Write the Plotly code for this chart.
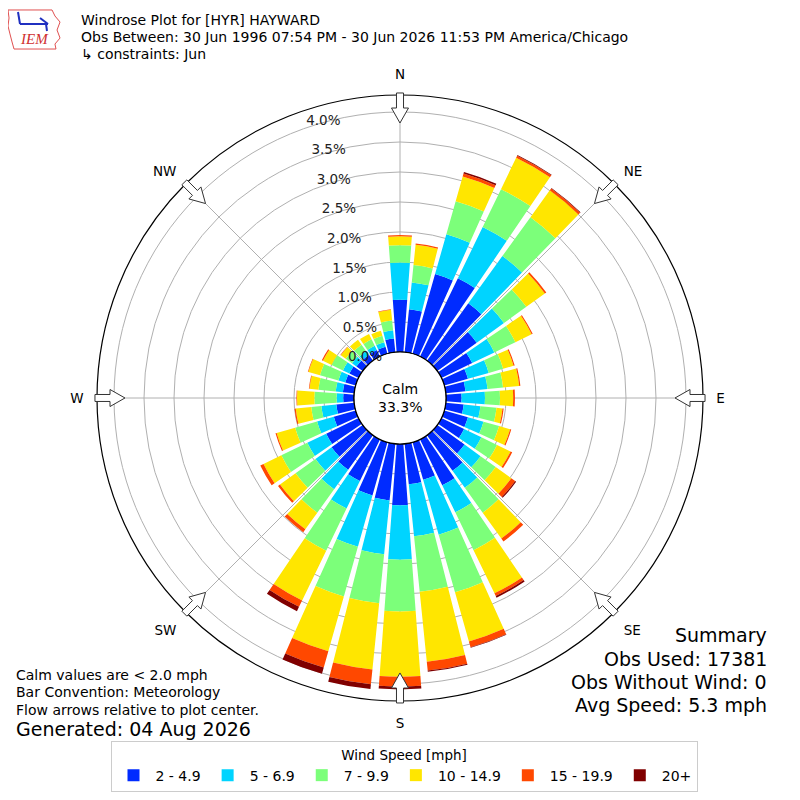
import math
import plotly.graph_objects as go

# wind direction bins (degrees, meteorological)
directions = list(range(0, 360, 10))

speed_bins = ["2 - 4.9", "5 - 6.9", "7 - 9.9", "10 - 14.9", "15 - 19.9", "20+"]
bin_colors = ["#002bff", "#00d4ff", "#7cff7a", "#ffe600", "#ff4800", "#800000"]

# frequency (%) per direction for each speed bin
pct_2_5 = [0.87, 0.72, 1.38, 1.45, 1.18, 0.81, 0.57, 0.41, 0.33, 0.26, 0.30, 0.41,
           0.42, 0.56, 0.73, 0.85, 0.65, 0.68, 1.02, 0.95, 0.92, 0.77, 0.71, 0.64,
           0.60, 0.38, 0.30, 0.18, 0.19, 0.18, 0.17, 0.13, 0.12, 0.12, 0.12, 0.23]
pct_5_7 = [0.62, 0.45, 0.69, 0.95, 0.97, 0.56, 0.41, 0.36, 0.37, 0.39, 0.28, 0.27,
           0.32, 0.33, 0.35, 0.50, 0.95, 0.87, 0.91, 0.90, 0.89, 0.51, 0.40, 0.33,
           0.35, 0.29, 0.25, 0.11, 0.12, 0.12, 0.12, 0.09, 0.08, 0.08, 0.08, 0.14]
pct_7_10 = [0.29, 0.29, 0.57, 0.70, 0.80, 0.46, 0.39, 0.25, 0.26, 0.25, 0.27, 0.27,
            0.29, 0.31, 0.51, 0.70, 1.00, 0.93, 0.86, 0.82, 0.86, 0.78, 0.48, 0.41,
            0.48, 0.38, 0.17, 0.37, 0.29, 0.32, 0.21, 0.13, 0.13, 0.12, 0.11, 0.16]
pct_10_15 = [0.15, 0.34, 0.43, 0.58, 0.55, 0.38, 0.30, 0.18, 0.27, 0.22, 0.10, 0.19,
             0.25, 0.32, 0.53, 0.80, 0.85, 1.17, 1.09, 1.11, 0.95, 0.92, 0.34, 0.32,
             0.33, 0.32, 0.26, 0.29, 0.15, 0.20, 0.16, 0.10, 0.10, 0.10, 0.09, 0.18]
pct_15_20 = [0.02, 0.02, 0.05, 0.04, 0.04, 0.03, 0.02, 0.02, 0.02, 0.03, 0.02, 0.02,
             0.03, 0.08, 0.06, 0.05, 0.10, 0.15, 0.16, 0.25, 0.28, 0.12, 0.06, 0.04,
             0.06, 0.02, 0.02, 0.01, 0.01, 0.01, 0.02, 0.01, 0.00, 0.00, 0.00, 0.01]
pct_20_up = [0.00, 0.00, 0.03, 0.01, 0.01, 0.00, 0.00, 0.00, 0.00, 0.00, 0.00, 0.00,
             0.00, 0.02, 0.00, 0.03, 0.01, 0.02, 0.05, 0.08, 0.11, 0.08, 0.00, 0.00,
             0.00, 0.00, 0.00, 0.00, 0.00, 0.00, 0.00, 0.00, 0.00, 0.00, 0.00, 0.00]

series = [pct_2_5, pct_5_7, pct_7_10, pct_10_15, pct_15_20, pct_20_up]

radial_ticks = [0.0, 0.5, 1.0, 1.5, 2.0, 2.5, 3.0, 3.5, 4.0]
compass_angles = [0, 45, 90, 135, 180, 225, 270, 315]
compass_labels = ["N", "NE", "E", "SE", "S", "SW", "W", "NW"]

FONT = "DejaVu Sans"
OFF = 8            # page body margin
W = H = 800 - OFF
CX, CY, R_OUT = 400, 398, 303   # target page pixels


def px2paper(x, y):
    return (x - OFF) / W, 1 - (y - OFF) / H


def arrow_path(bearing):
    # outlined flow arrow sitting on the outer ring, pointing inward
    pts = [(305, -3.5), (290, -3.5), (290, -8.5), (275, 0), (290, 8.5), (290, 3.5), (305, 3.5)]
    b = math.radians(bearing)
    out = []
    for u, v in pts:
        x = CX + u * math.sin(b) + v * math.cos(b)
        y = CY - u * math.cos(b) + v * math.sin(b)
        px, py = px2paper(x, y)
        out.append(f"{px:.4f},{py:.4f}")
    return "M " + " L ".join(out) + " Z"


fig = go.Figure()

for name, vals, col in zip(speed_bins, series, bin_colors):
    fig.add_trace(go.Barpolar(
        r=vals, theta=directions, width=[8.4] * len(directions),
        name=name, marker=dict(color=col, line=dict(width=0)),
    ))

# calm circle edge
fig.add_trace(go.Scatterpolar(
    r=[0] * 361, theta=list(range(361)), mode="lines",
    line=dict(color="black", width=1.2), showlegend=False, hoverinfo="skip",
))

x0, y1 = px2paper(CX - R_OUT, CY - R_OUT)
x1, y0 = px2paper(CX + R_OUT, CY + R_OUT)

fig.update_layout(
    width=W, height=H,
    margin=dict(l=0, r=0, t=0, b=0),
    paper_bgcolor="white",
    font=dict(family=FONT, size=13, color="black"),
    polar=dict(
        domain=dict(x=[x0, x1], y=[y0, y1]),
        bgcolor="white",
        hole=46 / R_OUT,
        barmode="stack",
        radialaxis=dict(
            range=[0, (R_OUT - 46) / 60], tickvals=radial_ticks,
            ticktext=[f"{v:.1f}%" for v in radial_ticks],
            angle=100, tickangle=100, side="counterclockwise",
            showline=False, ticks="", gridcolor="#b0b0b0", gridwidth=1,
            layer="above traces", tickfont=dict(size=13.5, color="#222"),
        ),
        angularaxis=dict(
            rotation=90, direction="clockwise",
            tickvals=compass_angles, ticktext=compass_labels,
            showline=True, linecolor="black", linewidth=1.2,
            gridcolor="#b0b0b0", gridwidth=1, layer="above traces",
            ticks="outside", ticklen=10, tickcolor="rgba(0,0,0,0)",
            tickfont=dict(size=13.5),
        ),
    ),
    legend=dict(
        orientation="h", x=0.5, xanchor="center", y=px2paper(0, 792)[1], yanchor="bottom",
        bordercolor="#cccccc", borderwidth=1, font=dict(size=14),
        title=dict(text="Wind Speed [mph]", side="top center", font=dict(size=13.5)),
        traceorder="normal", itemwidth=34,
    ),
    showlegend=True,
)

shapes = []
for ang in compass_angles:
    shapes.append(dict(type="path", path=arrow_path(ang), xref="paper", yref="paper",
                       fillcolor="white", line=dict(color="#333333", width=1)))

# rough IEM logo: state outline
logo = [(8, 10), (52, 10), (55, 16), (60, 22), (57, 30), (60, 38), (55, 44), (56, 49),
        (14, 49), (12, 42), (10, 34), (8, 26), (9, 18)]
lp = "M " + " L ".join("%.4f,%.4f" % px2paper(x, y) for x, y in logo) + " Z"
shapes.append(dict(type="path", path=lp, xref="paper", yref="paper",
                   line=dict(color="#e05050", width=1), fillcolor="white"))
barb = [((20, 24), (48, 24)), ((40, 18), (48, 24)), ((18, 12), (20, 24)), ((46, 24), (47, 31))]
for (ax_, ay_), (bx_, by_) in barb:
    p0 = px2paper(ax_, ay_)
    p1 = px2paper(bx_, by_)
    shapes.append(dict(type="line", x0=p0[0], y0=p0[1], x1=p1[0], y1=p1[1],
                       xref="paper", yref="paper", line=dict(color="#2030c0", width=2)))
fig.update_layout(shapes=shapes)


def note(text, x, y, size=13, anchor="left", color="black", family=FONT, style=None):
    px, py = px2paper(x, y)
    f = dict(size=size, color=color, family=family)
    if style:
        f["style"] = style
    fig.add_annotation(text=text, x=px, y=py, xref="paper", yref="paper",
                       xanchor=anchor, yanchor="middle", showarrow=False, font=f)


note("IEM", 34, 39, size=15, anchor="center", color="#d03030",
     family="Liberation Serif", style="italic")
note("Windrose Plot for [HYR] HAYWARD", 79, 20, size=14)
note("Obs Between: 30 Jun 1996 07:54 PM - 30 Jun 2026 11:53 PM America/Chicago", 79, 37, size=14)
note("↳ constraints: Jun", 79, 54, size=14)
note("Calm<br>33.3%", CX, CY, size=14, anchor="center")

note("Calm values are < 2.0 mph", 14, 675, size=14)
note("Bar Convention: Meteorology", 14, 692, size=14)
note("Flow arrows relative to plot center.", 14, 710, size=14)
note("Generated: 04 Aug 2026", 14, 729, size=19)

note("Summary", 769, 635, size=19, anchor="right")
note("Obs Used: 17381", 769, 659, size=19, anchor="right")
note("Obs Without Wind: 0", 769, 682, size=19, anchor="right")
note("Avg Speed: 5.3 mph", 769, 705, size=19, anchor="right")

fig.write_html("out.html")
